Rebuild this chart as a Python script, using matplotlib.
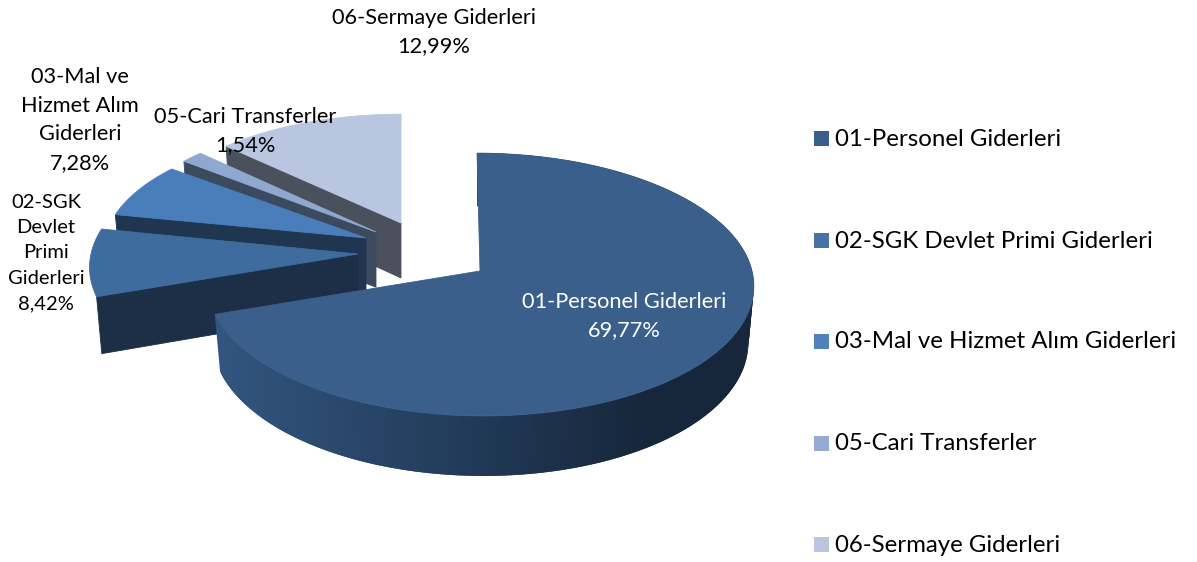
import numpy as np
import matplotlib
matplotlib.use("Agg")
import matplotlib.pyplot as plt
from matplotlib.patches import Polygon, Rectangle

plt.rcParams["font.family"] = ["Lato", "DejaVu Sans"]

# Chart data
categories = ["01-Personel Giderleri", "02-SGK Devlet Primi Giderleri",
              "03-Mal ve Hizmet Alım Giderleri", "05-Cari Transferler",
              "06-Sermaye Giderleri"]
values = [69.77, 8.42, 7.28, 1.54, 12.99]
value_labels = ["69,77%", "8,42%", "7,28%", "1,54%", "12,99%"]
slice_labels = ["01-Personel Giderleri", "02-SGK\nDevlet\nPrimi\nGiderleri",
                "03-Mal ve\nHizmet Alım\nGiderleri", "05-Cari Transferler",
                "06-Sermaye Giderleri"]

# Look of each slice
top_colors = ["#3A5F8B", "#3F6C9F", "#4A7EBB", "#8FA8D0", "#B9C6E0"]
wall_colors = ["#1F3550", "#1C2F47", "#1F3550", "#3C4A60", "#4A505C"]
legend_colors = ["#3A5F8B", "#4573A8", "#4F81BD", "#94ACD3", "#B9C6E0"]

# Apex of each exploded slice and its radii, in pixels
apex_x = [480, 358, 366, 376, 401]
apex_y = [271, 254, 238, 232, 223]
radius_x = [272, 267, 261, 258, 257]
radius_y = [130, 128, 120, 123, 120]
skew = [0.025, 0, 0, 0, 0]
perspective = 0.103
bottom_shrink = 0.98

label_x = [624, 46, 80, 245, 434]
label_y = [316, 253, 120, 131, 32]
label_size = [15.65, 14.5, 15.65, 15.65, 15.65]
label_spacing = [1.5, 1.6, 1.54, 1.5, 1.55]
legend_y = [138, 240, 341, 443, 544]
legend_size = 17.25


def top_point(i, theta):
    w = 1 + perspective * np.cos(theta)
    y = apex_y[i] - radius_y[i] * np.cos(theta) / w
    x = apex_x[i] + radius_x[i] * np.sin(theta) / w + skew[i] * (y - apex_y[i])
    return x, y


def drop(i, x, y):
    # same point on the lower rim of the pie
    depth = 55 + 0.026 * (y - 223)
    return apex_x[i] + (x - apex_x[i]) * bottom_shrink, y + depth


def wall(ax, pts, color, lw=0.6):
    ax.add_patch(Polygon(pts, closed=True, facecolor=color, edgecolor=color, linewidth=lw))


fig = plt.figure(figsize=(11.97, 5.62), dpi=100)
ax = fig.add_axes([0, 0, 1, 1])
ax.set_xlim(0, 1197)
ax.set_ylim(562, 0)
ax.axis("off")

edges = np.radians(np.concatenate([[0], np.cumsum(values)]) * 3.6)
edges[-1] = 2 * np.pi

# back slices first so the front ones cover them
for i in [4, 3, 2, 1, 0]:
    theta = np.linspace(edges[i], edges[i + 1], 240)
    xs, ys = top_point(i, theta)
    bx, by = drop(i, xs, ys)
    ax_pt = (apex_x[i], apex_y[i])
    ax_bot = drop(i, apex_x[i], apex_y[i])

    if i == 0:
        # curved front wall goes from lighter on the left to dark on the right
        for j in range(len(theta) - 1, 1, -1):
            t = np.clip((xs[j] - 220) / 430, 0, 1)
            c = (1 - t) * np.array([0x31, 0x55, 0x7E]) + t * np.array([0x16, 0x26, 0x3B])
            color = tuple(c / 255)
            wall(ax, [(xs[j], ys[j]), (xs[j - 2], ys[j - 2]), (bx[j - 2], by[j - 2]), (bx[j], by[j])], color, lw=0)
    else:
        wall(ax, [ax_pt, (xs[0], ys[0]), (bx[0], by[0]), ax_bot], wall_colors[i])

    ax.add_patch(Polygon([ax_pt] + list(zip(xs, ys)), closed=True,
                         facecolor=top_colors[i], edgecolor=top_colors[i], linewidth=0.6))

for i in range(len(values)):
    color = "white" if i == 0 else "black"
    ax.text(label_x[i], label_y[i], slice_labels[i] + "\n" + value_labels[i], ha="center", va="center",
            fontsize=label_size[i], color=color, linespacing=label_spacing[i])

# legend
for i in range(len(categories)):
    ax.add_patch(Rectangle((814, legend_y[i] - 7.5), 15, 15, facecolor=legend_colors[i], edgecolor="none"))
    ax.text(835, legend_y[i] + 1, categories[i], ha="left", va="center", fontsize=legend_size, color="black")

fig.savefig("out.png", dpi=100)
